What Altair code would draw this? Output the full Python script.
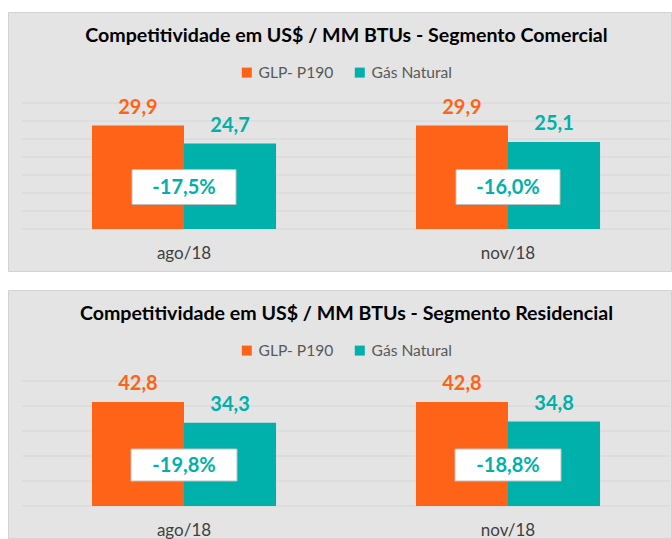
import altair as alt
import pandas as pd

# ---------------- data ----------------
categories = ["ago/18", "nov/18"]
series = ["GLP- P190", "Gás Natural"]
colors = ["#FF6317", "#00B0AA"]

comercial_glp = [29.9, 29.9]
comercial_gas = [24.7, 25.1]
comercial_diff = [-17.5, -16.0]

residencial_glp = [42.8, 42.8]
residencial_gas = [34.3, 34.8]
residencial_diff = [-19.8, -18.8]

titles = [
    "Competitividade em US$ / MM BTUs - Segmento Comercial",
    "Competitividade em US$ / MM BTUs - Segmento Residencial",
]

FONT = "Lato"
W = 648


def fmt(v):
    return f"{v:.1f}".replace(".", ",")


def panel(title, glp, gas, diff, ymax, nsteps, H, box_w, box_h, bottom_ext):
    rows = []
    for i, c in enumerate(categories):
        rows.append({"cat": c, "serie": series[0], "valor": glp[i], "rotulo": fmt(glp[i])})
        rows.append({"cat": c, "serie": series[1], "valor": gas[i], "rotulo": fmt(gas[i])})
    df = pd.DataFrame(rows)
    diff_df = pd.DataFrame({"cat": categories, "txt": [fmt(d) + "%" for d in diff]})
    grid_df = pd.DataFrame({"v": [ymax * k / nsteps for k in range(nsteps + 1)]})
    one = pd.DataFrame({"t": [title]})

    yscale = alt.Scale(domain=[0, ymax], nice=False, zero=True)
    xscale = alt.Scale(domain=categories, paddingInner=0, paddingOuter=0)
    xoff = alt.Scale(domain=series, paddingInner=0, paddingOuter=0.76)
    cscale = alt.Scale(domain=series, range=colors)

    xaxis = alt.Axis(title=None, domain=False, ticks=False, labelAngle=0,
                     labelFont=FONT, labelFontSize=17, labelColor="#404040",
                     labelPadding=16, zindex=1)
    xenc = alt.X("cat:N", scale=xscale, sort=categories, axis=xaxis)
    legend = alt.Legend(title=None, orient="none", legendX=217, legendY=-38.5,
                        direction="horizontal", symbolType="square", symbolSize=100,
                        symbolStrokeWidth=0, labelFont=FONT, labelFontSize=15.6,
                        labelColor="#595959", labelOffset=4, columnPadding=18, padding=0,
                        zindex=1)
    cenc = alt.Color("serie:N", scale=cscale, sort=series, legend=legend)

    bg = alt.Chart(one).mark_rect(fill="#E4E4E4", stroke="#D3D3D3", strokeWidth=1).encode(
        x=alt.value(-13.5), x2=alt.value(W + 1.5),
        y=alt.value(-90.5), y2=alt.value(H + bottom_ext))
    ttl = alt.Chart(one).mark_text(font=FONT, fontSize=19.6, fontWeight="bold", color="#000000",
                                   align="center", baseline="middle").encode(
        text="t:N", x=alt.value(324.5), y=alt.value(-67))
    grid = alt.Chart(grid_df).mark_rule(color="#D6D6D6", strokeWidth=1).encode(
        y=alt.Y("v:Q", scale=yscale, axis=None))
    bars = alt.Chart(df).mark_bar(opacity=1).encode(
        x=xenc,
        xOffset=alt.XOffset("serie:N", scale=xoff, sort=series),
        y=alt.Y("valor:Q", scale=yscale, axis=None),
        color=cenc)
    vals = alt.Chart(df).mark_text(font=FONT, fontSize=20, fontWeight="bold",
                                   baseline="middle", dy=-18).encode(
        x=xenc,
        xOffset=alt.XOffset("serie:N", scale=xoff, sort=series),
        y=alt.Y("valor:Q", scale=yscale, axis=None),
        text="rotulo:N",
        color=cenc)
    half = box_h / box_w
    path = f"M-1,-{half:.4f}L1,-{half:.4f}L1,{half:.4f}L-1,{half:.4f}Z"
    box = alt.Chart(diff_df).mark_point(shape=path, size=box_w ** 2, filled=True,
                                        fill="white", stroke="#BFBFBF", strokeWidth=1,
                                        opacity=1).encode(
        x=xenc, y=alt.value(84))
    pct = alt.Chart(diff_df).mark_text(font=FONT, fontSize=20, fontWeight="bold",
                                       color=colors[1], baseline="middle").encode(
        x=xenc, y=alt.value(85), text="txt:N")

    return alt.layer(bg, ttl, grid, bars, vals, box, pct).properties(width=W, height=H)


top = panel(titles[0], comercial_glp, comercial_gas, comercial_diff, 36.4, 7, 126, 104, 35, 42.5)
bottom = panel(titles[1], residencial_glp, residencial_gas, residencial_diff, 51.5, 5, 125, 106, 32, 32.5)

chart = alt.vconcat(top, bottom, spacing=18).resolve_scale(
    color="independent", x="independent", y="independent", xOffset="independent"
).resolve_legend(color="independent").properties(
    padding={"left": 8, "top": 12, "right": 0, "bottom": 0},
    background="white",
).configure_view(stroke=None)

chart.save("out.html", embed_options={"renderer": "svg", "actions": False})
